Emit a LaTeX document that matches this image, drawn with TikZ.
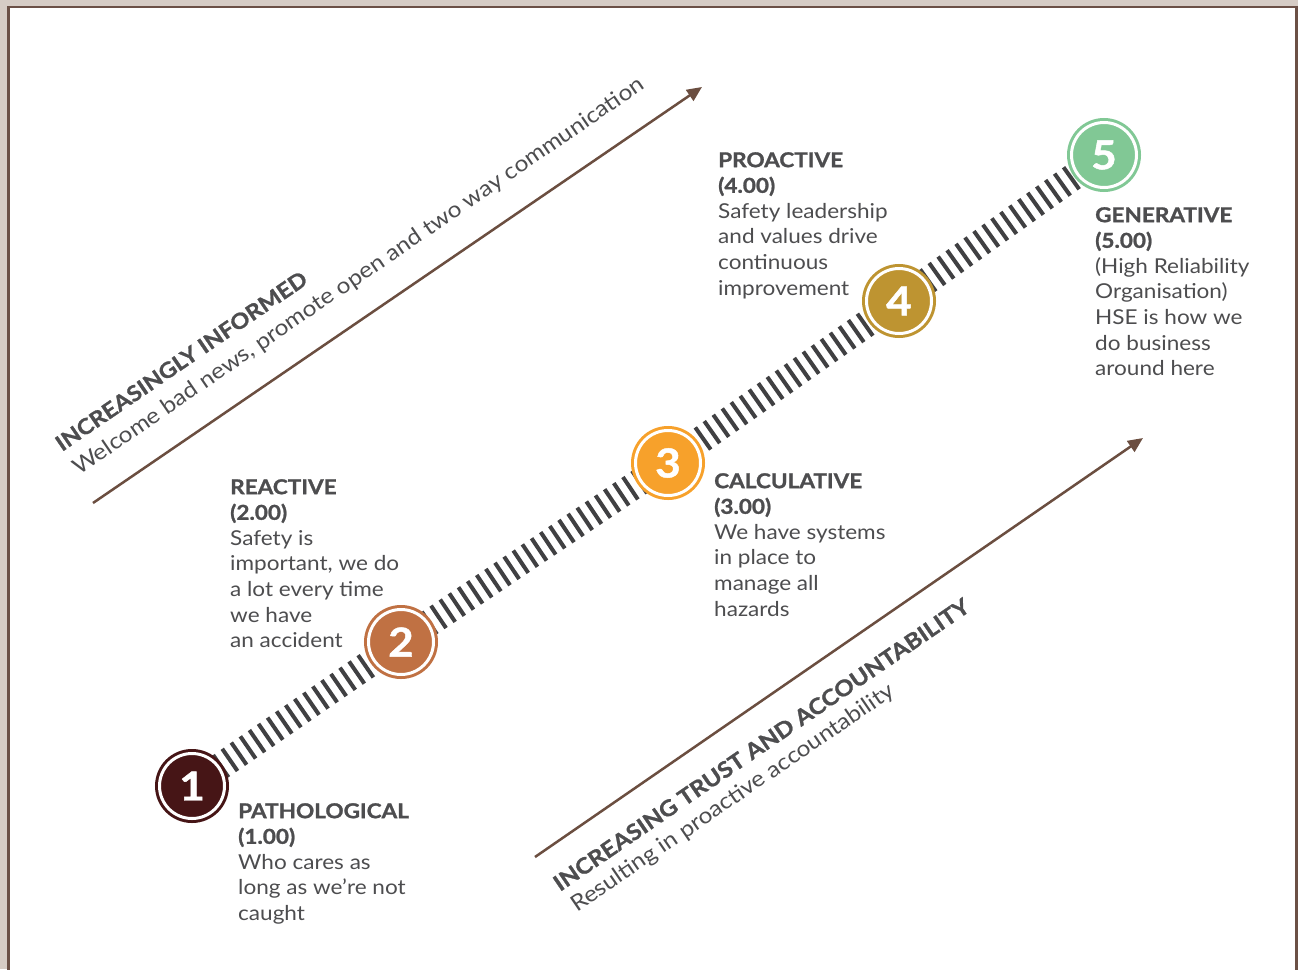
\documentclass[tikz,border=0pt]{standalone}
\usepackage{fontspec}
\setmainfont{Lato}[FakeStretch=1.1,BoldFeatures={FakeBold=1.2}]
\usetikzlibrary{arrows.meta}
\definecolor{framebg}{HTML}{D6CCC5}
\definecolor{framebrown}{HTML}{6B5046}
\definecolor{arrbrown}{HTML}{6B4E40}
\definecolor{txtgray}{HTML}{4D4D4F}
\definecolor{hatchgray}{HTML}{404042}
\definecolor{patcol}{HTML}{461516}
\definecolor{reacol}{HTML}{C07143}
\definecolor{calcol}{HTML}{F7A12B}
\definecolor{procol}{HTML}{BE9431}
\definecolor{gencol}{HTML}{81C895}
\begin{document}
\begin{tikzpicture}[x=1pt,y=-1pt,
        stage/.style={circle,inner sep=0pt,minimum size=65pt,fill=#1,draw=#1,line width=3pt,double=white,double distance=3pt,text=white,font=\fontsize{40}{40}\selectfont\bfseries},
        info/.style={anchor=north west,align=left,inner sep=0pt,text=txtgray,font=\fontsize{20.5}{25.6}\selectfont},
        trend/.style={draw=arrbrown,line width=2.5pt,-{Triangle[length=15pt,width=13pt]}},
        slant/.style={anchor=base west,inner sep=0pt,rotate=34.4,text=txtgray},
        hatch/.style={draw=hatchgray,line width=27pt,dash pattern=on 4pt off 7pt}]
    \useasboundingbox (0,0) rectangle (1298,969);
    \clip (0,0) rectangle (1298,969);
    \fill[framebg] (0,0) rectangle (1298,969);
    \filldraw[fill=white,draw=framebrown,line width=2.5pt] (8.5,7) rectangle (1296.5,990);

    \coordinate (inA) at (93,503);
    \coordinate (inB) at (702,87);
    \coordinate (trA) at (535,857);
    \coordinate (trB) at (1143,438);
    \draw[trend] (inA) -- (inB);
    \draw[trend] (trA) -- (trB);
    \node[slant,font=\fontsize{21.5}{21.5}\selectfont\bfseries] (inf) at (62,452) {INCREASINGLY INFORMED};
    \node[slant,font=\fontsize{22.2}{22.2}\selectfont] (wel) at (79,476) {Welcome bad news, promote open and two way communication};
    \node[slant,font=\fontsize{22}{22}\selectfont\bfseries] (tru) at (560,892) {INCREASING TRUST AND ACCOUNTABILITY};
    \node[slant,font=\fontsize{22.2}{22.2}\selectfont] (res) at (577,913) {Resulting in proactive accountability};

    \coordinate (p1) at (192,786);
    \coordinate (p2) at (401,642);
    \coordinate (p3) at (668,463);
    \coordinate (p4) at (899,301);
    \coordinate (p5) at (1104,155);
    \draw[hatch] (p1) -- (p2) -- (p3) -- (p4) -- (p5);
    \node[stage=patcol] (s1) at (p1) {1};
    \node[stage=reacol] (s2) at (p2) {2};
    \node[stage=calcol] (s3) at (p3) {3};
    \node[stage=procol] (s4) at (p4) {4};
    \node[stage=gencol] (s5) at (p5) {5};

    \node[info] (pat) at (238,803) {\textbf{PATHOLOGICAL}\\\textbf{(1.00)}\\Who cares as\\long as we’re not\\caught};
    \node[info] (rea) at (230,479) {\textbf{REACTIVE}\\\textbf{(2.00)}\\Safety is\\important, we do\\a lot every time\\we have\\an accident};
    \node[info] (cal) at (714,473) {\textbf{CALCULATIVE}\\\textbf{(3.00)}\\We have systems\\in place to\\manage all\\hazards};
    \node[info] (pro) at (718,152) {\textbf{PROACTIVE}\\\textbf{(4.00)}\\Safety leadership\\and values drive\\continuous\\improvement};
    \node[info] (gen) at (1095,207) {\textbf{GENERATIVE}\\\textbf{(5.00)}\\(High Reliability\\Organisation)\\HSE is how we\\do business\\around here};
\end{tikzpicture}
\end{document}
